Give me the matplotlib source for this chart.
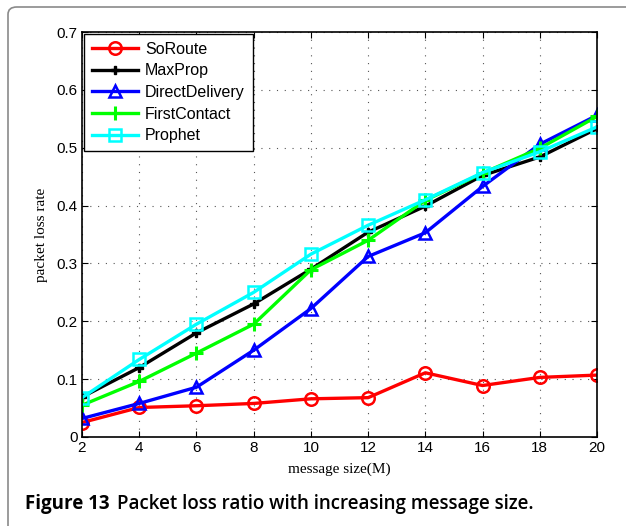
import numpy as np
import matplotlib
matplotlib.use("Agg")
import matplotlib.pyplot as plt
from matplotlib.patches import FancyBboxPatch

# message size (M)
sizes = [2, 4, 6, 8, 10, 12, 14, 16, 18, 20]

soroute = [0.025, 0.051, 0.054, 0.058, 0.066, 0.068, 0.111, 0.089, 0.103, 0.107]
maxprop = [0.069, 0.120, 0.180, 0.230, 0.290, 0.354, 0.399, 0.452, 0.484, 0.533]
direct = [0.032, 0.058, 0.086, 0.150, 0.222, 0.312, 0.353, 0.433, 0.506, 0.556]
firstcontact = [0.055, 0.096, 0.145, 0.195, 0.289, 0.340, 0.409, 0.456, 0.499, 0.554]
prophet = [0.068, 0.134, 0.195, 0.250, 0.316, 0.366, 0.410, 0.457, 0.493, 0.536]

names = ['SoRoute', 'MaxProp', 'DirectDelivery', 'FirstContact', 'Prophet']
colors = ['#ff0000', '#000000', '#0000ff', '#00ff00', '#00ffff']
markers = ['o', 'P', '^', '+', 's']

W, H = 626, 526
fig = plt.figure(figsize=(W / 100, H / 100), dpi=100)

# rounded frame round the figure panel
frame = FancyBboxPatch((8 / W, -0.2), 1.2, (H - 7) / H + 0.2,
                       boxstyle='round,pad=0,rounding_size=0.014',
                       transform=fig.transFigure, facecolor='none',
                       edgecolor='#8a8a8a', linewidth=1.2)
fig.add_artist(frame)

ax = fig.add_axes([82 / W, 1 - 437 / H, (597 - 82) / W, (437 - 32) / H])

series = [soroute, maxprop, direct, firstcontact, prophet]
for vals, name, c, m in zip(series, names, colors, markers):
    if m == 'P':
        ax.plot(sizes, vals, color=c, lw=2.4, marker='P', ms=6, mec=c,
                mfc=c, label=name)
    elif m == '+':
        ax.plot(sizes, vals, color=c, lw=2.4, marker='+', ms=10, mew=2.2,
                label=name)
    else:
        ax.plot(sizes, vals, color=c, lw=2.4, marker=m, ms=9, mfc='none',
                mec=c, mew=1.8, label=name)

ax.set_xlim(2, 20)
ax.set_ylim(0, 0.7)
ax.set_xticks(sizes)
ax.set_yticks(np.arange(0, 0.71, 0.1))
ax.set_yticklabels(['0', '0.1', '0.2', '0.3', '0.4', '0.5', '0.6', '0.7'])
ax.tick_params(direction='in', top=True, right=True, length=4, width=0.8,
               labelsize=11, pad=3)
for lab in ax.get_xticklabels() + ax.get_yticklabels():
    lab.set_family('Liberation Sans')
for s in ax.spines.values():
    s.set_linewidth(1.2)
ax.grid(True, linestyle=(0, (1, 6)), color='#555555', linewidth=0.8)

ax.set_xlabel('message size(M)', family='Liberation Serif', fontsize=11,
              labelpad=5)
ax.set_ylabel('packet loss rate', family='Liberation Serif', fontsize=11,
              labelpad=6)

leg = ax.legend(loc='upper left', fancybox=False, framealpha=1,
                edgecolor='black', prop={'family': 'Liberation Sans', 'size': 11.5},
                handlelength=2.9, borderaxespad=0.1, labelspacing=0.42,
                handletextpad=0.45, borderpad=0.5)
leg.get_frame().set_linewidth(1.0)

t1 = fig.text(25 / W, 1 - 509 / H, 'Figure 13', family='Open Sans',
              weight='bold', fontsize=13.5, va='baseline')
fig.canvas.draw()
x1 = t1.get_window_extent().x1
fig.text((x1 + 7) / W, 1 - 509 / H, 'Packet loss ratio with increasing message size.',
         family='Open Sans', weight='semibold', fontsize=13.5, va='baseline')

fig.savefig('out.png', dpi=100)
